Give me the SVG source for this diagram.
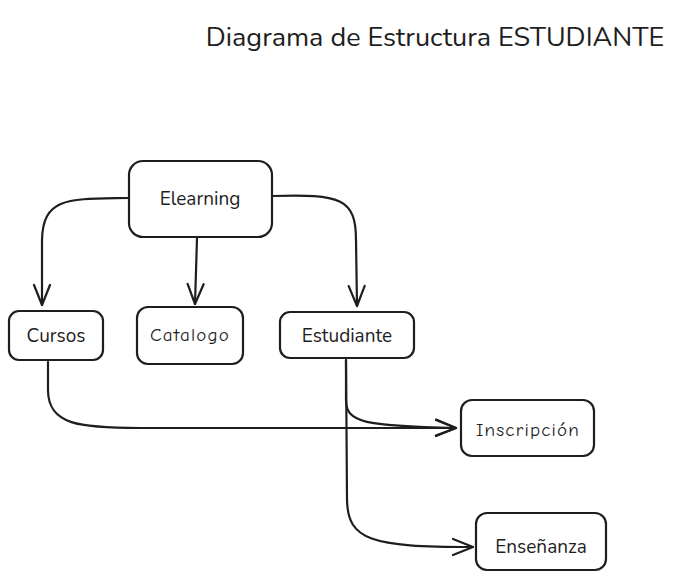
<svg xmlns="http://www.w3.org/2000/svg" width="693" height="587" viewBox="0 0 693 587">
<style>
.box{fill:#fff;stroke:#1e1e1e;stroke-width:2.2}
.lbl{font-family:"Nunito","Lato","Noto Sans",sans-serif;font-size:19px;fill:#1e1e1e;text-anchor:middle;dominant-baseline:central}
.hand{font-family:"Comic Neue","DejaVu Sans","Noto Sans",sans-serif;font-size:19px;letter-spacing:1.2px}
.edge{fill:none;stroke:#1e1e1e;stroke-width:2.2;stroke-linecap:round;marker-end:url(#arr)}
</style>
<defs>
<marker id="arr" viewBox="0 0 24 24" refX="22" refY="12" markerWidth="24" markerHeight="24" markerUnits="userSpaceOnUse" orient="auto">
<path d="M2,4 L22,12 L2,20" fill="none" stroke="#1e1e1e" stroke-width="2.2" stroke-linecap="round" stroke-linejoin="round"/>
</marker>
</defs>
<rect width="693" height="587" fill="#fff"/>
<text x="435" y="37" font-family="Nunito,Lato,'Noto Sans',sans-serif" font-size="27" fill="#1e1e1e" text-anchor="middle" dominant-baseline="central">Diagrama de Estructura ESTUDIANTE</text>
<g id="connectors">
<path class="edge" d="M128,198 C70,199 43,196 42,240 L42,305"/>
<path class="edge" d="M197,238 L195,304"/>
<path class="edge" d="M273,196 C340,194 356,198 356,240 L357,306"/>
<path class="edge" d="M48,362 L48,390 C48,425 80,428 140,428 L456,428"/>
<path class="edge" d="M346,360 L346,400 C346,423 365,426 456,428"/>
<path class="edge" d="M346,360 L347,500 C348,540 370,547 473,547"/>
</g>
<g id="elearning"><rect class="box" x="129" y="161" width="143" height="76" rx="14"/><text class="lbl" x="200" y="199">Elearning</text></g>
<g id="cursos"><rect class="box" x="9" y="311" width="94" height="49" rx="10"/><text class="lbl" x="56" y="336">Cursos</text></g>
<g id="catalogo"><rect class="box" x="137" y="307" width="106" height="57" rx="11"/><text class="lbl hand" x="190" y="335">Catalogo</text></g>
<g id="estudiante"><rect class="box" x="280" y="312" width="134" height="46" rx="10"/><text class="lbl" x="347" y="336">Estudiante</text></g>
<g id="inscripcion"><rect class="box" x="461" y="400" width="133" height="56" rx="11"/><text class="lbl hand" x="528" y="430">Inscripción</text></g>
<g id="ensenanza"><rect class="box" x="476" y="513" width="130" height="57" rx="11"/><text class="lbl" x="541" y="547">Enseñanza</text></g>
</svg>
